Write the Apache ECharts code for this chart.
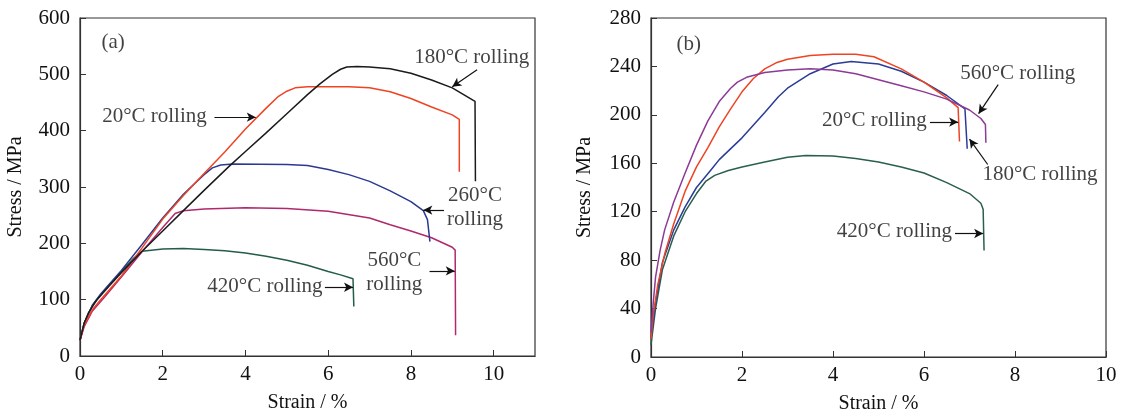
<!DOCTYPE html>
<html>
<head>
<meta charset="utf-8">
<script src="https://cdn.jsdelivr.net/npm/echarts@6/dist/echarts.min.js"></script>
<style>
  html, body { margin: 0; padding: 0; background: #fff; }
  #chart { width: 1122px; height: 413px; }
</style>
</head>
<body>
<div id="chart"></div>
<script>
// (a) strain / stress curves, [strain %, stress MPa]
var a20 = [[0,28],[0.1,55],[0.3,82],[0.5,100],[1,142],[1.5,192],[2,243],[2.5,285],[3,324],[3.5,362],[4,403],[4.5,440],[4.8,461],[5,470],[5.2,476],[5.5,478],[6.5,478],[7,476],[7.5,469],[8,457],[8.5,442],[9,428],[9.17,420],[9.17,327]];
var a180 = [[0,28],[0.1,58],[0.2,76],[0.4,99],[0.7,124],[1,148],[1.5,186],[2,222],[2.5,258],[3,294],[3.61,337],[4,363],[4.5,396],[5,430],[5.5,464],[5.8,483],[6.1,500],[6.3,509],[6.45,513],[6.7,514],[7,513],[7.5,510],[8,502],[8.5,490],[9,476],[9.55,452],[9.56,310]];
var a260 = [[0,28],[0.1,58],[0.3,90],[0.5,110],[1,152],[1.5,198],[2,245],[2.5,287],[3,322],[3.2,334],[3.4,339],[3.7,341],[5,340],[5.5,338],[6,331],[6.5,322],[7,310],[7.5,293],[8,274],[8.3,258],[8.4,242],[8.46,203]];
var a560 = [[0,28],[0.1,52],[0.3,80],[0.6,105],[1,140],[1.5,185],[2,228],[2.3,253],[2.5,258],[3,261],[4,263],[5,262],[6,257],[7,245],[7.5,233],[8,222],[8.5,210],[9,193],[9.07,188],[9.08,37]];
var a420 = [[0,28],[0.1,58],[0.3,90],[0.6,117],[1,150],[1.3,174],[1.5,186],[2,190],[2.5,191],[3,189],[3.5,187],[4,183],[4.5,177],[5,170],[5.5,161],[6,150],[6.3,144],[6.6,137],[6.62,88]];

// (b)
var b20 = [[0,15],[0.05,35],[0.15,60],[0.3,85],[0.5,110],[0.75,137],[1,157],[1.25,173],[1.5,190],[1.75,205],[2,219],[2.25,230],[2.5,238],[2.75,243],[3,246],[3.5,249],[4,250],[4.5,250],[4.9,248],[5.5,238],[6,227],[6.5,214],[6.75,206],[6.78,178]];
var b180 = [[0,15],[0.1,45],[0.25,78],[0.5,105],[0.75,124],[1,140],[1.33,155],[1.5,163],[2,181],[2.5,202],[2.8,215],[3,222],[3.5,234],[4,242],[4.4,244],[5,242],[5.5,236],[6,227],[6.5,216],[6.9,205],[6.95,172]];
var b560 = [[0,20],[0.05,45],[0.1,66],[0.2,88],[0.3,105],[0.5,128],[0.75,152],[1,175],[1.25,195],[1.5,211],[1.75,222],[1.9,227],[2.1,231],[2.5,235],[3,237],[3.5,238],[4,237],[4.5,234],[5,229],[5.5,224],[6,219],[6.5,213],[7,204],[7.25,197],[7.35,192],[7.36,177]];
var b420 = [[0,10],[0.1,40],[0.25,72],[0.5,100],[0.75,120],[1,135],[1.2,145],[1.4,150],[1.7,154],[2,157],[2.5,161],[3,165],[3.4,166.5],[4,166],[4.5,164],[5,161],[5.5,157],[6,152],[6.5,144],[7,135],[7.25,127],[7.3,122],[7.32,88]];

// annotation texts [text, strain, stress] and arrows [from x, from y, to x, to y]
var labelsA = [['(a)',0.8,556],['180°C rolling',9.47,530],['20°C rolling',1.8,426],['260°C\nrolling',9.55,264],['560°C\nrolling',7.6,148],['420°C rolling',4.47,124]];
var arrowsA = [[9.6,508,9.0,478],[3.25,424,4.25,424],[8.8,259,8.3,259],[8.45,151,9.06,151],[5.92,122,6.6,122]];
var labelsB = [['(b)',0.83,258],['560°C rolling',8.06,234],['20°C rolling',4.91,195],['180°C rolling',8.55,151],['420°C rolling',5.35,104]];
var arrowsB = [[7.63,225,7.2,201],[6.13,194,6.75,194],[7.4,159,7.0,180],[6.68,102,7.3,102]];

var font = "'Liberation Serif', 'Times New Roman', serif";
var ink = '#111';

function axisX(idx, max, showMax) {
  return {
    type: 'value', gridIndex: idx, min: 0, max: max, interval: 2,
    name: 'Strain / %', nameLocation: 'middle', nameGap: 37,
    nameTextStyle: { fontFamily: font, fontSize: 20, color: ink },
    axisLine: { lineStyle: { color: '#333', width: 1.2 } },
    axisTick: { inside: true, length: 6, lineStyle: { color: '#333' } },
    axisLabel: { fontFamily: font, fontSize: 21, color: ink, margin: 8, showMaxLabel: showMax },
    splitLine: { show: false }
  };
}
function axisY(idx, max, interval, gap) {
  return {
    type: 'value', gridIndex: idx, min: 0, max: max, interval: interval,
    name: 'Stress / MPa', nameLocation: 'middle', nameGap: gap,
    nameTextStyle: { fontFamily: font, fontSize: 20, color: ink },
    axisLine: { lineStyle: { color: '#333', width: 1.2 } },
    axisTick: { inside: true, length: 6, lineStyle: { color: '#333' } },
    axisLabel: { fontFamily: font, fontSize: 21, color: ink, margin: 10 },
    splitLine: { show: false }
  };
}
function curve(idx, name, data, color) {
  return {
    type: 'line', name: name, xAxisIndex: idx, yAxisIndex: idx, data: data,
    showSymbol: false, symbol: 'none', silent: true,
    lineStyle: { color: color, width: 1.5 }
  };
}
function notes(idx, labels, arrows) {
  return {
    type: 'scatter', xAxisIndex: idx, yAxisIndex: idx, symbolSize: 0, silent: true,
    data: labels.map(function (l) { return { name: l[0], value: [l[1], l[2]] }; }),
    label: {
      show: true, position: 'inside', formatter: '{b}',
      fontFamily: font, fontSize: 21, color: ink, lineHeight: 24, align: 'center'
    },
    markLine: {
      silent: true, symbol: ['none', 'arrow'], symbolSize: [7, 9],
      lineStyle: { color: ink, width: 1.2, type: 'solid' },
      label: { show: false },
      data: arrows.map(function (a) { return [{ coord: [a[0], a[1]] }, { coord: [a[2], a[3]] }]; })
    }
  };
}

var myChart = echarts.init(document.getElementById('chart'));
var option = {
  animation: false,
  backgroundColor: '#fff',
  grid: [
    { left: 80, top: 18, width: 455, height: 338, outerBoundsMode: 'none', show: true, borderColor: '#333', borderWidth: 1.2, backgroundColor: 'transparent' },
    { left: 651, top: 18, width: 455, height: 339, outerBoundsMode: 'none', show: true, borderColor: '#333', borderWidth: 1.2, backgroundColor: 'transparent' }
  ],
  xAxis: [axisX(0, 11, false), axisX(1, 10, true)],
  yAxis: [axisY(0, 600, 100, 54), axisY(1, 280, 40, 56)],
  series: [
    curve(0, '420°C', a420, '#245c4c'),
    curve(0, '560°C', a560, '#b0286e'),
    curve(0, '260°C', a260, '#2b3990'),
    curve(0, '20°C', a20, '#ee4424'),
    curve(0, '180°C', a180, '#1b1b1b'),
    notes(0, labelsA, arrowsA),
    curve(1, '420°C', b420, '#2a5e50'),
    curve(1, '180°C', b180, '#2a3d96'),
    curve(1, '20°C', b20, '#ee4424'),
    curve(1, '560°C', b560, '#8c3a96'),
    notes(1, labelsB, arrowsB)
  ]
};
option && myChart.setOption(option);
</script>
</body>
</html>
